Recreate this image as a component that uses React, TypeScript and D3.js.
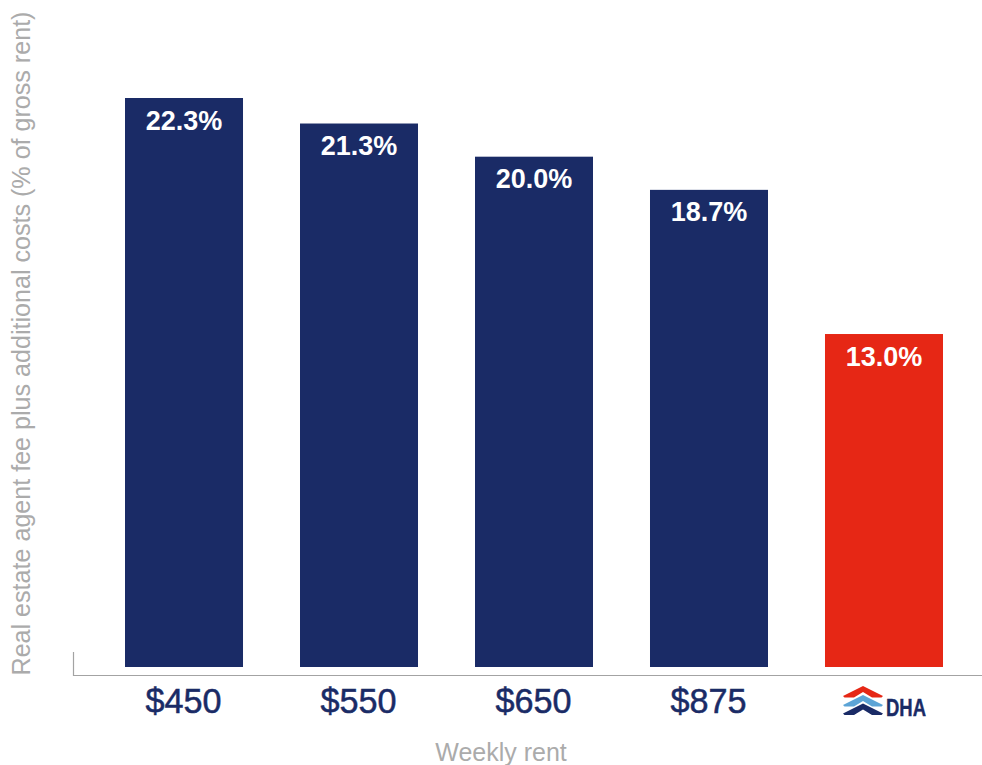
import React, { useEffect, useRef } from "react";
import * as d3 from "d3";

const categories = ["$450", "$550", "$650", "$875", "DHA"];
const values = [22.3, 21.3, 20.0, 18.7, 13.05];
const valueLabels = ["22.3%", "21.3%", "20.0%", "18.7%", "13.0%"];
const barColors = ["#1a2b66", "#1a2b66", "#1a2b66", "#1a2b66", "#e62715"];
const yTitle = "Real estate agent fee plus additional costs (% of gross rent)";
const xTitle = "Weekly rent";

const W = 982, H = 765;
const FONT = "'Liberation Sans', Arial, sans-serif";
const GREY = "#ababab";
const chevron = "M-20,10 L0,0 L20,10 L18.5,11.5 L9,11.5 L0,6 L-9,11.5 L-18.5,11.5 Z";

export default function App() {
  const ref = useRef<SVGSVGElement>(null);
  useEffect(() => {
    const svg = d3.select(ref.current!);
    svg.selectAll("*").remove();
    const x = d3.scaleBand<string>().domain(categories).range([96.5, 971.5]).paddingInner(0.3257).paddingOuter(0.1629);
    const y = d3.scaleLinear().domain([0, 22.3]).range([667, 98]);
    const data = categories.map((c, i) => ({ c, v: values[i], col: barColors[i], label: valueLabels[i] }));

    svg.append("g").selectAll("rect").data(data).join("rect")
      .attr("x", d => x(d.c)!).attr("y", d => y(d.v))
      .attr("width", x.bandwidth()).attr("height", d => y(0) - y(d.v))
      .attr("fill", d => d.col);

    svg.append("g").selectAll("text").data(data).join("text")
      .attr("x", d => x(d.c)! + x.bandwidth() / 2).attr("y", d => y(d.v) + 31.5)
      .attr("text-anchor", "middle").attr("fill", "#fff")
      .attr("font-family", FONT).attr("font-size", 27).attr("font-weight", 700)
      .text(d => d.label);

    svg.append("path").attr("d", "M73.5,652V675.5H982").attr("fill", "none").attr("stroke", "#a3a3a3").attr("stroke-width", 1.2);

    svg.append("g").selectAll("text").data(data.filter(d => d.c !== "DHA")).join("text")
      .attr("x", d => x(d.c)! + x.bandwidth() / 2 - 0.5).attr("y", 713)
      .attr("text-anchor", "middle").attr("fill", "#1a2b66").attr("stroke", "#1a2b66").attr("stroke-width", 0.5)
      .attr("font-family", FONT).attr("font-size", 34.2).text(d => d.c);

    const logo = svg.append("g");
    const chevrons: [number, string][] = [[686, "#e62715"], [695, "#5ca4d6"], [703.5, "#1a2b66"]];
    logo.selectAll("path").data(chevrons).join("path")
      .attr("d", chevron).attr("transform", d => `translate(863,${d[0]})`).attr("fill", d => d[1]);
    logo.append("text").attr("x", 886).attr("y", 715.5).attr("fill", "#1a2b66").attr("stroke", "#1a2b66").attr("stroke-width", 0.4)
      .attr("font-family", FONT).attr("font-weight", 700).attr("font-size", 24)
      .attr("textLength", 40).attr("lengthAdjust", "spacingAndGlyphs").text("DHA");

    svg.append("text").attr("x", 501).attr("y", 761).attr("text-anchor", "middle")
      .attr("fill", GREY).attr("font-family", FONT).attr("font-size", 25).text(xTitle);

    svg.append("text").attr("transform", "translate(30,343.5) rotate(-90)").attr("text-anchor", "middle")
      .attr("fill", GREY).attr("font-family", FONT).attr("font-size", 25.1).text(yTitle);
  }, []);
  return <svg ref={ref} width={W} height={H} style={{ position: "absolute", left: 0, top: 0, background: "#fff" }} />;
}
